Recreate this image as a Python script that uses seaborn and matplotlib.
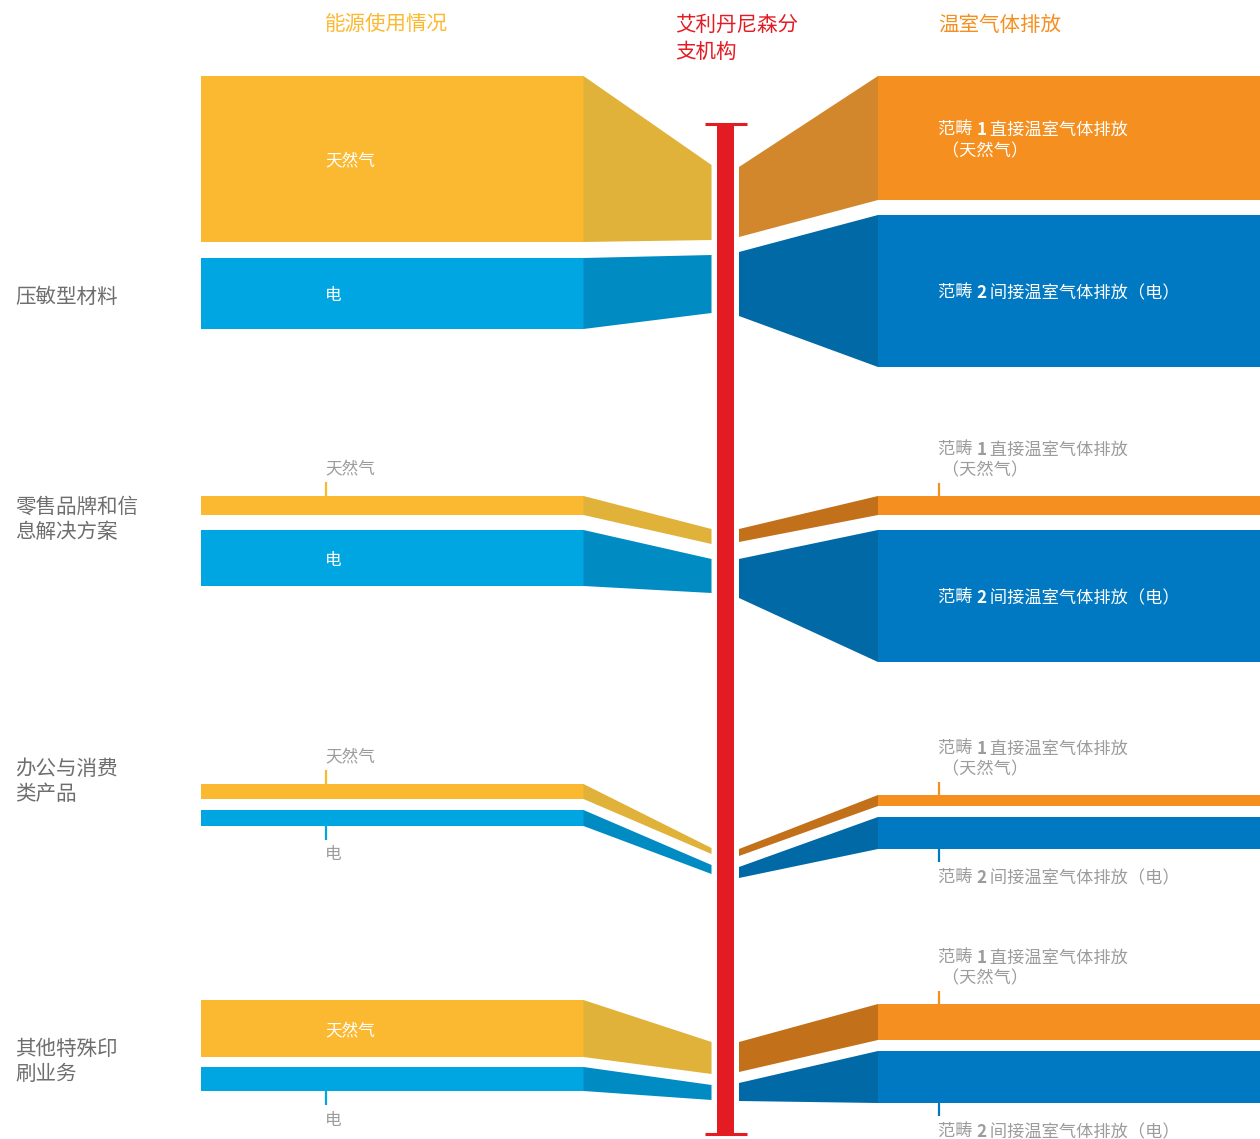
import matplotlib
matplotlib.use("Agg")
import matplotlib.pyplot as plt
import seaborn as sns

# ------------------------------------------------------------------
# Datos (grosor de cada banda, en unidades del gráfico)
# ------------------------------------------------------------------
segmentos = ["压敏型材料", "零售品牌和信\n息解决方案", "办公与消费\n类产品", "其他特殊印\n刷业务"]

gas_uso = [166, 19, 15, 57]        # 天然气 (barra izquierda)
elec_uso = [71, 56, 16, 24]        # 电 (barra izquierda)
gas_centro = [75, 15, 6, 32]       # grosor junto al eje central
elec_centro = [58, 34, 9, 15]

alcance1 = [124, 19, 11, 36]       # 范畴 1 (barra derecha)
alcance2 = [152, 132, 32, 52]      # 范畴 2 (barra derecha)
alcance1_centro = [70, 13, 7, 30]
alcance2_centro = [64, 39, 11, 18]

# etiquetas dentro (True) o fuera (False) de la barra
gas_dentro = [True, False, False, True]
elec_dentro = [True, True, False, False]
a1_dentro = [True, False, False, False]
a2_dentro = [True, True, False, False]

# ------------------------------------------------------------------
# Disposición
# ------------------------------------------------------------------
W, H = 1260, 1139
izq_top = [76, 496, 784, 1000]
izq_centro_top = [165, 529, 848, 1042]
der_top = [76, 496, 795, 1004]
der_centro_top = [167, 529, 849, 1042]
huecos_izq = [16, 15, 11, 10]
huecos_izq_centro = [15, 15, 11, 11]
huecos_der = [15, 15, 11, 11]
huecos_der_centro = [15, 17, 11, 11]
etiqueta_y = [294, 517, 779, 1059]

X_BARRA0, X_BARRA1, X_MID_IZQ = 201, 583.5, 711.5
X_MID_DER, X_BARRA_DER0, X_BARRA_DER1 = 739, 878, 1260
X_ROJO0, X_ROJO1 = 717, 734
Y_ROJO0, Y_ROJO1 = 123, 1134

C_GAS, C_GAS_T = "#FBB931", "#E0B23A"
C_ELEC, C_ELEC_T = "#00A6E2", "#008CC3"
C_A1 = "#F58F1F"
C_A1_T = ["#D2872C", "#C2701A", "#C2701A", "#C2701A"]
C_A2, C_A2_T = "#0079C2", "#0069A6"
C_ROJO = "#E31B23"
C_GRIS = "#6E6E6E"
C_GRIS_CLARO = "#9C9C9C"

T_TITULO = 14.8
T_ETIQ = 12
T_ALC = 12.4

sns.set_theme(style="white")
plt.rcParams['font.family'] = ['Noto Sans CJK SC', 'DejaVu Sans']

fig = plt.figure(figsize=(W / 100, H / 100), dpi=100)
ax = fig.add_axes([0, 0, 1, 1])
ax.set_xlim(0, W)
ax.set_ylim(H, 0)
ax.axis("off")


def banda_izq(top, grosor, mtop, mgrosor, color, color_t):
    ax.fill([X_BARRA0, X_BARRA1 + 0.5, X_BARRA1 + 0.5, X_BARRA0],
            [top, top, top + grosor, top + grosor], color=color, lw=0)
    ax.fill([X_BARRA1, X_MID_IZQ, X_MID_IZQ, X_BARRA1],
            [top, mtop, mtop + mgrosor, top + grosor], color=color_t, lw=0)


def banda_der(top, grosor, mtop, mgrosor, color, color_t):
    ax.fill([X_BARRA_DER0 - 0.5, X_BARRA_DER1, X_BARRA_DER1, X_BARRA_DER0 - 0.5],
            [top, top, top + grosor, top + grosor], color=color, lw=0)
    ax.fill([X_MID_DER, X_BARRA_DER0, X_BARRA_DER0, X_MID_DER],
            [mtop, top, top + grosor, mtop + mgrosor], color=color_t, lw=0)


def texto_alcance(x, y, num, resto, color, size=T_ALC):
    # "范畴 N ..." con el número en negrita
    t1 = ax.text(x, y, "范畴 ", color=color, fontsize=size, va="center_baseline", ha="left")
    t2 = ax.annotate(num, xy=(1, 0), xycoords=t1, va="bottom", ha="left",
                     color=color, fontsize=size, fontweight="bold")
    ax.annotate(" " + resto, xy=(1, 0), xycoords=t2, va="bottom", ha="left",
                color=color, fontsize=size)


def marca(x, y0, y1, color):
    ax.plot([x, x], [y0, y1], color=color, lw=1.6, solid_capstyle="butt")


for i in range(len(segmentos)):
    # --- lado izquierdo: uso de energía
    gt = izq_top[i]
    et = gt + gas_uso[i] + huecos_izq[i]
    gmt = izq_centro_top[i]
    emt = gmt + gas_centro[i] + huecos_izq_centro[i]
    banda_izq(gt, gas_uso[i], gmt, gas_centro[i], C_GAS, C_GAS_T)
    banda_izq(et, elec_uso[i], emt, elec_centro[i], C_ELEC, C_ELEC_T)

    if gas_dentro[i]:
        ax.text(325, gt + gas_uso[i] / 2, "天然气", color="white", fontsize=T_ETIQ,
                va="center_baseline", ha="left")
    else:
        marca(326, gt - 14, gt, C_GAS)
        ax.text(325, gt - 29, "天然气", color=C_GRIS_CLARO, fontsize=T_ETIQ,
                va="center_baseline", ha="left")
    if elec_dentro[i]:
        ax.text(325, et + elec_uso[i] / 2, "电", color="white", fontsize=T_ETIQ,
                va="center_baseline", ha="left")
    else:
        eb = et + elec_uso[i]
        marca(326, eb, eb + 14, C_ELEC)
        ax.text(325, eb + 27, "电", color=C_GRIS_CLARO, fontsize=T_ETIQ,
                va="center_baseline", ha="left")

    # --- lado derecho: emisiones
    at1 = der_top[i]
    at2 = at1 + alcance1[i] + huecos_der[i]
    amt1 = der_centro_top[i]
    amt2 = amt1 + alcance1_centro[i] + huecos_der_centro[i]
    banda_der(at1, alcance1[i], amt1, alcance1_centro[i], C_A1, C_A1_T[i])
    banda_der(at2, alcance2[i], amt2, alcance2_centro[i], C_A2, C_A2_T)

    if a1_dentro[i]:
        yc = at1 + alcance1[i] / 2
        texto_alcance(938, yc - 10, "1", "直接温室气体排放", "white")
        ax.text(938, yc + 11, " （天然气）", color="white", fontsize=T_ALC,
                va="center_baseline", ha="left")
    else:
        marca(939, at1 - 13, at1, C_A1)
        texto_alcance(938, at1 - 48, "1", "直接温室气体排放", C_GRIS_CLARO)
        ax.text(938, at1 - 28, " （天然气）", color=C_GRIS_CLARO, fontsize=T_ALC,
                va="center_baseline", ha="left")
    if a2_dentro[i]:
        texto_alcance(938, at2 + alcance2[i] / 2, "2", "间接温室气体排放（电）", "white")
    else:
        ab = at2 + alcance2[i]
        marca(939, ab, ab + 13, C_A2)
        texto_alcance(938, ab + 27, "2", "间接温室气体排放（电）", C_GRIS_CLARO)

    # --- nombre del segmento
    lineas = segmentos[i].split("\n")
    y0 = etiqueta_y[i] - (len(lineas) - 1) * 12.5
    for k, linea in enumerate(lineas):
        ax.text(15, y0 + k * 25, linea, color=C_GRIS, fontsize=T_TITULO,
                va="center_baseline", ha="left")

# eje central rojo
ax.fill([X_ROJO0, X_ROJO1, X_ROJO1, X_ROJO0], [Y_ROJO0, Y_ROJO0, Y_ROJO1, Y_ROJO1],
        color=C_ROJO, lw=0)
ax.plot([705, 746.5], [Y_ROJO0 + 0.5, Y_ROJO0 + 0.5], color=C_ROJO, lw=2.2, solid_capstyle="butt")
ax.plot([705, 746.5], [Y_ROJO1 - 0.5, Y_ROJO1 - 0.5], color=C_ROJO, lw=2.2, solid_capstyle="butt")

# títulos de columna
ax.text(325, 22, "能源使用情况", color=C_GAS, fontsize=T_TITULO, va="center_baseline", ha="left")
ax.text(675, 22, "艾利丹尼森分", color=C_ROJO, fontsize=T_TITULO, va="center_baseline", ha="left")
ax.text(675, 49, "支机构", color=C_ROJO, fontsize=T_TITULO, va="center_baseline", ha="left")
ax.text(938, 22, "温室气体排放", color=C_A1, fontsize=T_TITULO, va="center_baseline", ha="left")

fig.savefig("out.png", dpi=100, facecolor="white")
